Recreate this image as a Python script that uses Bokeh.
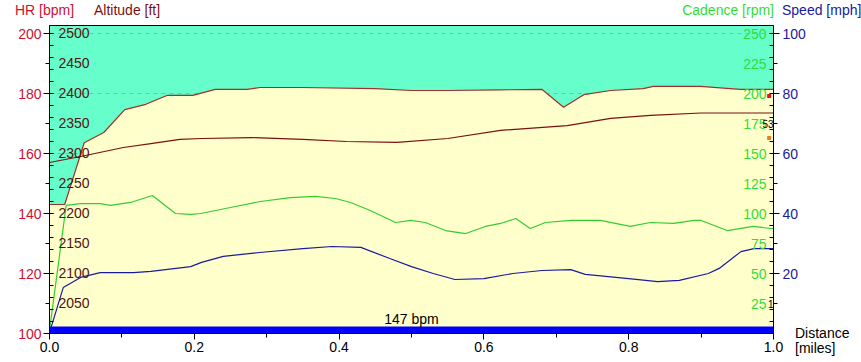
import math
from bokeh.plotting import figure
from bokeh.models import Range1d, LinearAxis, FixedTicker, PrintfTickFormatter, Div
from bokeh.layouts import column
from bokeh.core.properties import value
from bokeh.embed import file_html
from bokeh.resources import INLINE

FONT = "Liberation Sans"

# ---------------- data ----------------
alt_dist = [0.0, 0.021, 0.048, 0.075, 0.104, 0.133, 0.163, 0.198, 0.229, 0.273, 0.291, 0.347,
            0.45, 0.50, 0.55, 0.62, 0.680, 0.710, 0.738, 0.775, 0.820, 0.834, 0.899, 0.954, 1.0]
alt_ft = [2215, 2215, 2318, 2335, 2373, 2382, 2397, 2397, 2407, 2407, 2410, 2410,
          2408, 2405, 2405, 2406, 2407, 2377, 2398, 2405, 2408, 2412, 2412, 2407, 2407]

hr_dist = [0.0, 0.043, 0.102, 0.14, 0.18, 0.21, 0.28, 0.35, 0.41, 0.48, 0.55, 0.623,
           0.715, 0.775, 0.83, 0.9, 1.0]
hr_bpm = [157, 159, 162, 163.3, 164.7, 165, 165.3, 164.7, 164, 163.7, 165, 167.7,
          169.3, 171.7, 172.7, 173.5, 173.5]

cad_dist = [0.0, 0.023, 0.043, 0.070, 0.084, 0.112, 0.142, 0.174, 0.195, 0.209, 0.25, 0.291,
            0.333, 0.367, 0.395, 0.416, 0.443, 0.478, 0.499, 0.519, 0.547, 0.575, 0.602, 0.623,
            0.644, 0.664, 0.685, 0.72, 0.761, 0.802, 0.83, 0.862, 0.89, 0.9, 0.936, 0.972, 0.996, 1.0]
cad_rpm = [2.5, 106.7, 108.3, 108.3, 106.7, 109.2, 115, 100, 99.2, 100, 105, 110,
           113.3, 114.2, 112.5, 109.2, 102.5, 92.5, 94.2, 92.5, 85.8, 83.3, 89.2, 91.7,
           95.8, 87.5, 92.5, 94.2, 94.2, 89.2, 92.5, 91.7, 94.2, 94.2, 85.8, 89.2, 87.5, 87.5]

spd_dist = [0.0, 0.019, 0.043, 0.07, 0.116, 0.14, 0.195, 0.21, 0.24, 0.29, 0.35, 0.39, 0.43,
            0.47, 0.5, 0.53, 0.56, 0.6, 0.64, 0.68, 0.72, 0.74, 0.8, 0.84, 0.87, 0.91, 0.925,
            0.955, 0.973, 1.0]
spd_mph = [0.3, 15.3, 18.7, 20.3, 20.3, 20.7, 22.3, 23.7, 25.7, 27, 28.3, 29, 28.7,
           25, 22.3, 20, 18, 18.3, 20, 21, 21.3, 19.7, 18.3, 17.3, 17.7, 20, 21.7,
           27.3, 28.3, 28.3]

lap_start = [0.0]
lap_end = [1.0]
lap_avg_hr = [147]

hr_ticks = [100, 120, 140, 160, 180, 200]
hr_minor = [110, 130, 150, 170, 190]
alt_labels = [2050, 2100, 2150, 2200, 2250, 2300, 2350, 2400, 2450, 2500]
alt_minor = list(range(2000, 2501, 20))
cad_labels = [25, 50, 75, 100, 125, 150, 175, 200, 225, 250]
cad_minor = list(range(0, 251, 10))
spd_ticks = [20, 40, 60, 80, 100]
spd_minor = [10, 30, 50, 70, 90]
x_ticks = [0.0, 0.2, 0.4, 0.6, 0.8, 1.0]
x_minor = [0.1, 0.3, 0.5, 0.7, 0.9]

mark_x = [0.994, 0.994]
mark_hr = [179.2, 165.2]
mark_colors = ["#EE1111", "#E8801A"]
note_text = ["53", "1"]
note_hr = [170.0, 110.0]

# ---------------- colours ----------------
C_HR = "#CC1133"
C_ALT = "#801010"
C_ALT_LBL = "#551111"
C_CAD = "#33DD33"
C_SPD = "#1A1A9A"

W, H = 861, 362
p = figure(width=W, height=H, output_backend="svg", toolbar_location=None,
           x_range=Range1d(0, 1.0), y_range=Range1d(100, 202.67),
           min_border_left=49, min_border_right=88, min_border_top=25, min_border_bottom=29)
p.background_fill_color = "#66FFCC"
p.border_fill_color = "white"
p.outline_line_color = "black"
p.extra_y_ranges = {"alt": Range1d(2000, 2513.33), "cad": Range1d(0, 256.67),
                    "spd": Range1d(0, 102.67)}

# grid
p.xgrid.visible = False
p.ygrid.ticker = FixedTicker(ticks=hr_ticks)
p.ygrid.grid_line_color = "#A8A8A8"
p.ygrid.grid_line_dash = "4 4"

# x axis
xa = p.xaxis[0]
xa.ticker = FixedTicker(ticks=x_ticks, minor_ticks=x_minor)
xa.formatter = PrintfTickFormatter(format="%.1f")
xa.major_tick_out = 6
xa.major_tick_in = 0
xa.minor_tick_out = 4
xa.minor_tick_in = 0
xa.major_label_standoff = 2
xa.major_label_text_font = FONT
xa.major_label_text_font_size = "14px"
xa.major_label_text_color = "black"
xa.axis_line_color = "black"

# left HR axis
ya = p.yaxis[0]
ya.ticker = FixedTicker(ticks=hr_ticks, minor_ticks=hr_minor)
ya.major_tick_out = 6
ya.major_tick_in = 4
ya.minor_tick_out = 4
ya.minor_tick_in = 0
ya.major_label_standoff = 2
ya.major_label_text_font = FONT
ya.major_label_text_font_size = "14px"
ya.major_label_text_color = C_HR
ya.axis_line_color = "black"

# right speed axis
sa = LinearAxis(y_range_name="spd", ticker=FixedTicker(ticks=spd_ticks, minor_ticks=spd_minor))
sa.major_tick_out = 6
sa.major_tick_in = 0
sa.minor_tick_out = 4
sa.minor_tick_in = 0
sa.major_label_standoff = 3
sa.major_label_text_font = FONT
sa.major_label_text_font_size = "14px"
sa.major_label_text_color = C_SPD
sa.axis_line_color = "black"
p.add_layout(sa, "right")

# altitude filled area
p.varea(x=alt_dist, y1=[2000] * len(alt_dist), y2=alt_ft, y_range_name="alt",
        fill_color="#FFFFCC")
p.line(alt_dist, alt_ft, y_range_name="alt", line_color="#A0302A", line_width=1.2)

# HR, cadence, speed
p.line(hr_dist, hr_bpm, line_color="#7A1010", line_width=1.2)
p.line(cad_dist, cad_rpm, y_range_name="cad", line_color="#33CC33", line_width=1.2)
p.line(spd_dist, spd_mph, y_range_name="spd", line_color="#1A1AA0", line_width=1.2)

# lap bar with average HR
p.quad(left=lap_start, right=lap_end, bottom=[100] * len(lap_start),
       top=[102.3] * len(lap_start), fill_color="#0000FF", line_color=None)
p.text(x=[(a + b) / 2 for a, b in zip(lap_start, lap_end)], y=[102.3] * len(lap_start),
       text=[f"{h} bpm" for h in lap_avg_hr], text_align="center", text_baseline="bottom",
       text_font=value(FONT), text_font_size="14px", text_color="black")

# inner altitude ticks & labels
p.ray(x=[0] * len(alt_minor), y=alt_minor, length=4, length_units="screen", angle=0,
      y_range_name="alt", line_color="black", line_width=1)
p.text(x=[0] * len(alt_labels), y=alt_labels, text=[str(v) for v in alt_labels],
       x_offset=9, text_baseline="middle", text_align="left", y_range_name="alt",
       text_font=value(FONT), text_font_size="14px", text_color=C_ALT_LBL)

# inner cadence ticks & labels
p.ray(x=[1.0] * len(cad_minor), y=cad_minor, length=4, length_units="screen", angle=math.pi,
      y_range_name="cad", line_color="black", line_width=1)
p.text(x=[1.0] * len(cad_labels), y=cad_labels, text=[str(v) for v in cad_labels],
       x_offset=-7, text_baseline="middle", text_align="right", y_range_name="cad",
       text_font=value(FONT), text_font_size="14px", text_color=C_CAD)

# small lap markers on the right
p.scatter(x=mark_x, y=mark_hr, marker="square", size=4, fill_color=mark_colors,
          line_color=None)
p.text(x=[1.0] * len(note_text), y=note_hr, text=note_text, text_align="right",
       text_baseline="middle", text_font=value(FONT), text_font_size="10px",
       text_color="black")

# axis titles (outside the frame) as an overlay placed over the figure
SHIFT = 20  # measured offset of the overlay's origin below the figure

def span(txt, top, color, left=None, right=None):
    pos = f"left:{left}px;" if left is not None else f"right:{right}px;"
    return (f'<span style="position:absolute;{pos}top:{top - H - SHIFT}px;color:{color};'
            f"font-family:'Liberation Sans',Arial,sans-serif;font-size:14px;line-height:14px;"
            f'white-space:nowrap;">{txt}</span>')

titles = [
    span("HR [bpm]", 6, C_HR, left=10),
    span("Altitude [ft]", 6, C_ALT, left=89),
    span("Cadence [rpm]", 6, C_CAD, right=W - 769),
    span("Speed [mph]", 6, C_SPD, left=777),
    span("Distance", 329, "black", left=790),
    span("[miles]", 344, "black", left=790),
]
overlay = Div(text=f'<div style="position:relative;width:{W}px;height:0px;">' + "".join(titles) + "</div>",
              width=W, height=0, styles={"overflow": "visible"})

layout = column(p, overlay, spacing=0)

open("out.html", "w").write(file_html(layout, INLINE))
